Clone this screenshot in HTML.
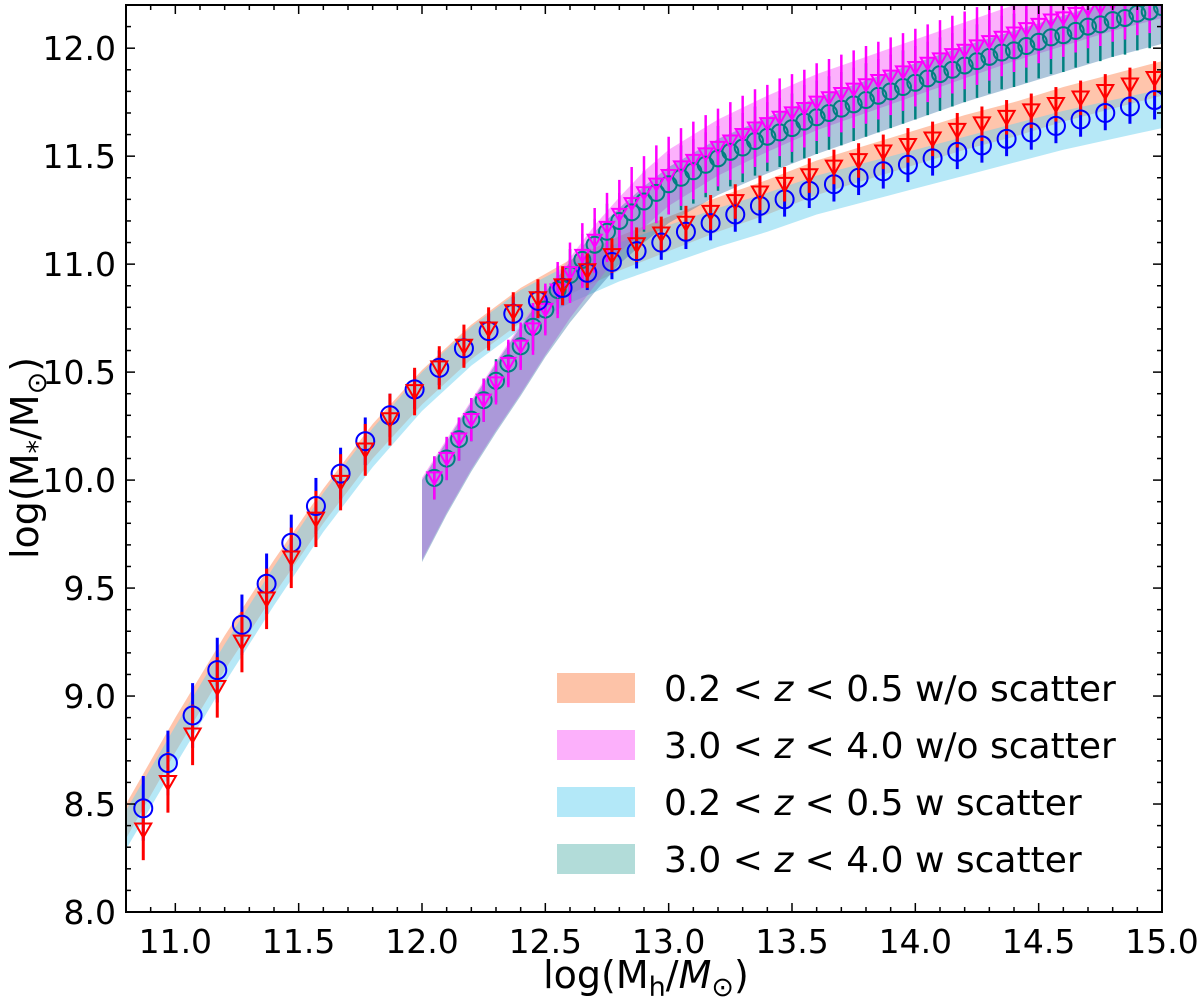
<!DOCTYPE html>
<html><head><meta charset="utf-8"><style>
body{margin:0;background:#fff}
svg{display:block;font-family:"DejaVu Sans","Liberation Sans",sans-serif}
</style></head><body>
<svg id="chart" width="1200" height="997" viewBox="0 0 1200 997" xmlns="http://www.w3.org/2000/svg">
<defs><clipPath id="clip"><rect x="126" y="5" width="1036" height="907"/></clipPath></defs>
<g id="bands" clip-path="url(#clip)"></g>
<g id="marks" clip-path="url(#clip)"></g>
<g id="axes"></g>
<g id="legend"></g>
</svg>
<script>
const lowX=[10.87,10.97,11.07,11.17,11.27,11.37,11.47,11.57,11.67,11.77,11.87,11.97,12.07,12.17,12.27,12.37,12.47,12.57,12.67,12.77,12.87,12.97,13.07,13.17,13.27,13.37,13.47,13.57,13.67,13.77,13.87,13.97,14.07,14.17,14.27,14.37,14.47,14.57,14.67,14.77,14.87,14.97];
const blueY=[8.48,8.69,8.91,9.12,9.33,9.52,9.71,9.88,10.03,10.18,10.30,10.42,10.52,10.61,10.69,10.77,10.83,10.89,10.96,11.01,11.06,11.10,11.15,11.19,11.23,11.27,11.30,11.34,11.37,11.40,11.43,11.46,11.49,11.52,11.55,11.58,11.61,11.64,11.67,11.70,11.73,11.76];
const blueErr=[0.15,0.15,0.15,0.15,0.14,0.14,0.13,0.13,0.12,0.11,0.1,0.09,0.08,0.08,0.08,0.08,0.08,0.08,0.08,0.08,0.08,0.08,0.08,0.08,0.08,0.08,0.08,0.08,0.08,0.08,0.08,0.08,0.08,0.08,0.08,0.08,0.08,0.08,0.08,0.08,0.08,0.09];
const redY=[8.38,8.60,8.82,9.04,9.25,9.45,9.64,9.82,9.99,10.14,10.28,10.41,10.52,10.62,10.70,10.78,10.84,10.90,10.97,11.04,11.09,11.14,11.19,11.24,11.29,11.33,11.37,11.41,11.45,11.48,11.52,11.55,11.58,11.62,11.65,11.68,11.71,11.74,11.77,11.80,11.83,11.86];
const redErr=[0.14,0.14,0.14,0.14,0.14,0.14,0.14,0.13,0.13,0.12,0.12,0.11,0.1,0.1,0.1,0.09,0.09,0.09,0.08,0.08,0.08,0.08,0.08,0.08,0.08,0.08,0.08,0.08,0.08,0.08,0.08,0.08,0.08,0.08,0.08,0.08,0.08,0.08,0.08,0.08,0.08,0.08];
const highX=[12.05,12.10,12.15,12.20,12.25,12.30,12.35,12.40,12.45,12.50,12.55,12.60,12.65,12.70,12.75,12.80,12.85,12.90,12.95,13.00,13.05,13.10,13.15,13.20,13.25,13.30,13.35,13.40,13.45,13.50,13.55,13.60,13.65,13.70,13.75,13.80,13.85,13.90,13.95,14.00,14.05,14.10,14.15,14.20,14.25,14.30,14.35,14.40,14.45,14.50,14.55,14.60,14.65,14.70,14.75,14.80,14.85,14.90,14.95,15.00];
const tealY=[10.01,10.10,10.19,10.28,10.37,10.46,10.54,10.62,10.71,10.79,10.88,10.95,11.02,11.09,11.15,11.20,11.24,11.29,11.33,11.37,11.40,11.43,11.46,11.49,11.52,11.54,11.57,11.59,11.61,11.63,11.66,11.68,11.70,11.72,11.74,11.76,11.78,11.80,11.82,11.84,11.86,11.88,11.90,11.92,11.94,11.96,11.98,11.99,12.01,12.03,12.05,12.06,12.08,12.10,12.11,12.13,12.14,12.16,12.17,12.19];
const magY=[10.01,10.10,10.19,10.28,10.37,10.45,10.54,10.62,10.70,10.79,10.88,10.96,11.04,11.11,11.17,11.23,11.28,11.33,11.37,11.41,11.45,11.48,11.51,11.54,11.57,11.60,11.63,11.65,11.68,11.70,11.72,11.75,11.77,11.79,11.81,11.83,11.85,11.87,11.89,11.91,11.93,11.95,11.97,11.99,12.01,12.03,12.05,12.07,12.09,12.11,12.13,12.14,12.16,12.18,12.19,12.21,12.22,12.24,12.25,12.27];
const tealErr=[0.1,0.1,0.1,0.1,0.1,0.1,0.1,0.1,0.11,0.11,0.11,0.12,0.12,0.12,0.13,0.13,0.13,0.14,0.14,0.14,0.15,0.15,0.15,0.15,0.16,0.16,0.16,0.16,0.16,0.16,0.17,0.17,0.17,0.17,0.17,0.17,0.17,0.17,0.17,0.17,0.17,0.17,0.17,0.17,0.17,0.17,0.17,0.17,0.17,0.17,0.17,0.17,0.17,0.17,0.17,0.17,0.17,0.17,0.17,0.17];
const magErr=[0.1,0.1,0.1,0.1,0.1,0.1,0.11,0.11,0.12,0.12,0.13,0.14,0.15,0.15,0.16,0.16,0.17,0.17,0.18,0.18,0.18,0.18,0.18,0.18,0.18,0.18,0.18,0.18,0.18,0.18,0.18,0.18,0.18,0.18,0.18,0.18,0.18,0.18,0.18,0.18,0.18,0.18,0.18,0.18,0.18,0.18,0.18,0.18,0.18,0.18,0.18,0.18,0.18,0.18,0.18,0.18,0.18,0.18,0.18,0.18];
const bandLowX=[10.8,11.0,11.2,11.4,11.6,11.8,12.0,12.2,12.4,12.6,12.8,13.0,13.2,13.4,13.6,13.8,14.0,14.2,14.4,14.6,14.8,15.0];
const bandOrange=[8.42,8.82,9.20,9.55,9.88,10.18,10.43,10.64,10.81,10.94,11.05,11.14,11.23,11.31,11.40,11.47,11.54,11.61,11.67,11.74,11.80,11.86];
const bandCyan=[8.38,8.77,9.15,9.51,9.85,10.15,10.41,10.62,10.79,10.91,11.01,11.09,11.17,11.24,11.32,11.38,11.44,11.50,11.56,11.62,11.67,11.72];
const bandHighX=[12.0,12.1,12.2,12.3,12.4,12.5,12.6,12.7,12.8,12.9,13.0,13.2,13.4,13.6,13.8,14.0,14.2,14.4,14.6,14.8,15.0];
const bandMag=[9.82,10.02,10.21,10.39,10.56,10.73,10.89,11.04,11.18,11.30,11.40,11.54,11.65,11.75,11.83,11.91,11.99,12.07,12.14,12.21,12.27];
const bandMagW=[0.19,0.17,0.16,0.16,0.16,0.15,0.14,0.14,0.13,0.13,0.13,0.13,0.13,0.13,0.13,0.13,0.13,0.13,0.13,0.13,0.13];
const bandTeal=[9.81,10.01,10.20,10.38,10.55,10.72,10.87,11.01,11.13,11.23,11.32,11.45,11.55,11.64,11.72,11.80,11.88,11.95,12.02,12.09,12.15];
const bandTealW=[0.19,0.17,0.16,0.16,0.16,0.15,0.14,0.14,0.13,0.13,0.13,0.13,0.13,0.13,0.13,0.13,0.13,0.13,0.13,0.13,0.13];
const xTicks=["11.0","11.5","12.0","12.5","13.0","13.5","14.0","14.5","15.0"];
const yTicks=["8.0","8.5","9.0","9.5","10.0","10.5","11.0","11.5","12.0"];

const NS="http://www.w3.org/2000/svg";
const X0=126,X1=1162,Y0=912,Y1=5,xmin=10.8,xmax=15.0,ymin=8.0,ymax=12.2;
const sx=v=>X0+(v-xmin)/(xmax-xmin)*(X1-X0);
const sy=v=>Y0-(v-ymin)/(ymax-ymin)*(Y0-Y1);
function mk(tag,attrs,parent){const e=document.createElementNS(NS,tag);for(const k in attrs)e.setAttribute(k,attrs[k]);parent.appendChild(e);return e;}
const bands=document.getElementById('bands'),marks=document.getElementById('marks'),axes=document.getElementById('axes'),legend=document.getElementById('legend');

function band(xs,cs,ws,fill,name){
  let up=xs.map((x,i)=>sx(x)+','+sy(cs[i]+(Array.isArray(ws)?ws[i]:ws)));
  let lo=xs.map((x,i)=>sx(x)+','+sy(cs[i]-(Array.isArray(ws)?ws[i]:ws))).reverse();
  const p=mk('polygon',{points:up.concat(lo).join(' '),fill:fill},bands);
  
  
}
band(bandLowX,bandOrange,0.08,'rgba(255,140,90,0.5)','band-lowz-wo-scatter');
band(bandLowX,bandCyan,0.09,'rgba(110,210,240,0.5)','band-lowz-w-scatter');
band(bandHighX,bandMag,bandMagW,'rgba(250,100,250,0.5)','band-highz-wo-scatter');
band(bandHighX,bandTeal,bandTealW,'rgba(60,120,170,0.42)','band-highz-w-scatter');

function errs(xs,ys,es,color,w,name){
  xs.forEach((x,i)=>{const l=mk('line',{x1:sx(x),x2:sx(x),y1:sy(ys[i]-es[i]),y2:sy(ys[i]+es[i]),stroke:color,'stroke-width':w},marks);
  
  });
}
function circles(xs,ys,r,color,name){
  xs.forEach((x,i)=>{const c=mk('circle',{cx:sx(x),cy:sy(ys[i]),r:r,fill:'none',stroke:color,'stroke-width':2},marks);
  
  });
}
function tris(xs,ys,s,color,name){
  xs.forEach((x,i)=>{const cx=sx(x),cy=sy(ys[i]);
  const t=mk('polygon',{points:`${cx-s},${cy-s*0.8} ${cx+s},${cy-s*0.8} ${cx},${cy+s*0.95}`,fill:'none',stroke:color,'stroke-width':2},marks);
  
  });
}
errs(highX,tealY,tealErr,'#008080',2.5,'errorbar-highz-w');
errs(highX,magY,magErr,'#ff00ff',2.5,'errorbar-highz-wo');
circles(highX,tealY,8,'#008080','point-highz-w');
tris(highX,magY,7,'#ff00ff','point-highz-wo');
errs(lowX,blueY,blueErr,'#0000ff',3,'errorbar-lowz-w');
errs(lowX,redY,redErr,'#ff0000',3,'errorbar-lowz-wo');
circles(lowX,blueY,9,'#0000ff','point-lowz-w');
tris(lowX,redY,8,'#ff0000','point-lowz-wo');

const fr=mk('rect',{x:X0,y:Y1,width:X1-X0,height:Y0-Y1,fill:'none',stroke:'#000','stroke-width':2},axes);


for(let k=0;k<=42;k++){const v=xmin+k*0.1,x=sx(v),L=(k%5==2)?9:5;
  mk('line',{x1:x,x2:x,y1:Y0,y2:Y0-L,stroke:'#000','stroke-width':1.5},axes);
  mk('line',{x1:x,x2:x,y1:Y1,y2:Y1+L,stroke:'#000','stroke-width':1.5},axes);}
for(let k=0;k<=42;k++){const v=ymin+k*0.1,y=sy(v),L=(k%5==0)?9:5;
  mk('line',{x1:X0,x2:X0+L,y1:y,y2:y,stroke:'#000','stroke-width':1.5},axes);
  mk('line',{x1:X1,x2:X1-L,y1:y,y2:y,stroke:'#000','stroke-width':1.5},axes);}
xTicks.forEach(t=>{const e=mk('text',{x:sx(parseFloat(t)),y:953,'text-anchor':'middle','font-size':33},axes);e.textContent=t;
  
  });
yTicks.forEach(t=>{const e=mk('text',{x:116,y:sy(parseFloat(t))+12,'text-anchor':'end','font-size':33},axes);e.textContent=t;
  
  });
const xl=mk('text',{x:646,y:988,'text-anchor':'middle','font-size':38},axes);
xl.innerHTML='log(M<tspan font-size="27" dy="8">h</tspan><tspan dy="-8">/</tspan><tspan font-style="italic">M</tspan><tspan font-size="27" dy="8">⊙</tspan><tspan dy="-8">)</tspan>';


const yl=mk('text',{x:0,y:0,'text-anchor':'middle','font-size':38,transform:'translate(38,458) rotate(-90)'},axes);
yl.innerHTML='log(M<tspan font-size="27" dy="8">*</tspan><tspan dy="-8">/M</tspan><tspan font-size="27" dy="8">⊙</tspan><tspan dy="-8">)</tspan>';



const legCols=['#fdc3a8','#fcb0fb','#b3e8f8','#b2dcd9'];
const legA=['0.2','3.0','0.2','3.0'],legB=['0.5','4.0','0.5','4.0'],legC=['w/o scatter','w/o scatter','w scatter','w scatter'];
legCols.forEach((c,i)=>{const cy=688+i*57;
  const r=mk('rect',{x:557,y:cy-15,width:78,height:30,fill:c},legend);
  
  
  const t=mk('text',{x:664,y:cy+13,'font-size':36},legend);
  t.innerHTML=legA[i]+' &lt; <tspan font-style="italic">z</tspan> &lt; '+legB[i]+' '+legC[i];
  
  });
</script>
</body></html>
